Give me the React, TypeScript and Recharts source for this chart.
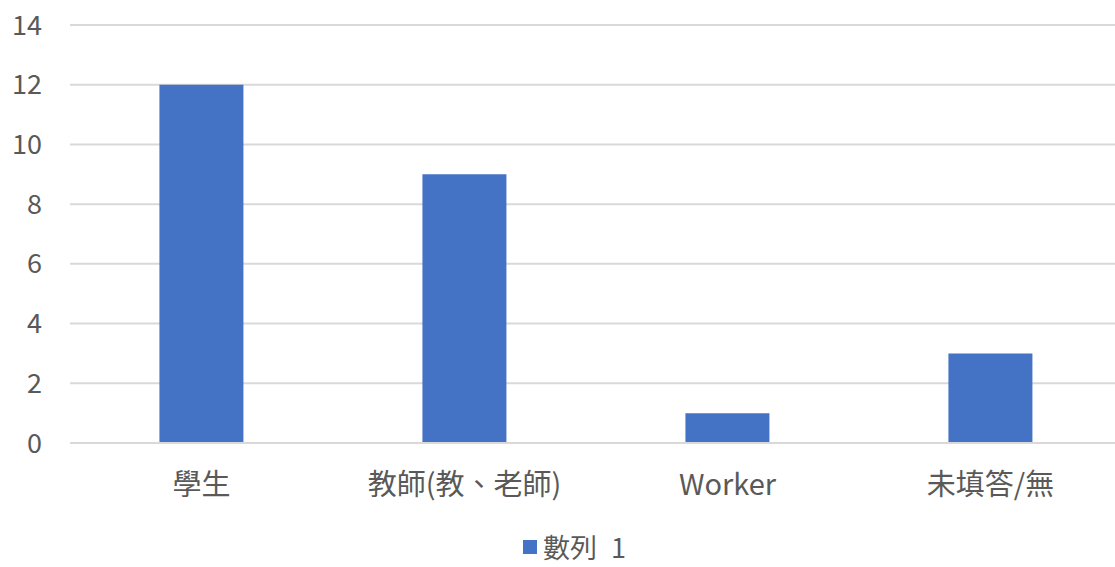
import React from 'react';
import { BarChart, Bar, XAxis, YAxis, CartesianGrid, Legend } from 'recharts';

const categories = ['學生', '教師(教、老師)', 'Worker', '未填答/無'];
const series1 = [12, 9, 1, 3];
const yTicks = [0, 2, 4, 6, 8, 10, 12, 14];
const seriesName = '數列 1';

const data = categories.map((name, i) => ({ name, value: series1[i] }));

const FONT = '"Noto Sans CJK TC", "Noto Sans", sans-serif';
const BLUE = '#4472C4';
const TEXT = '#595959';

const LegendBox = () => (
  <div
    style={{
      height: 44,
      paddingBottom: 2,
      paddingLeft: 27,
      boxSizing: 'border-box',
      display: 'flex',
      alignItems: 'flex-end',
      justifyContent: 'center',
      fontFamily: FONT,
      fontSize: 27,
      lineHeight: '36px',
      color: TEXT,
    }}
  >
    <span style={{ width: 14, height: 14, background: BLUE, marginRight: 6, marginBottom: 11, display: 'inline-block' }} />
    <span style={{ wordSpacing: 8 }}>{seriesName}</span>
  </div>
);

export default function App() {
  return (
    <div style={{ position: 'absolute', left: 0, top: 0, width: 1115, height: 567, overflow: 'hidden', background: '#fff' }}>
      <BarChart
        width={1130}
        height={567}
        data={data}
        margin={{ top: 25, right: 8, bottom: 0, left: 0 }}
        barCategoryGap="34%"
      >
        <CartesianGrid vertical={false} stroke="#d9d9d9" strokeWidth={2} />
        <XAxis
          dataKey="name"
          height={80}
          tickLine={false}
          tickSize={0}
          tickMargin={31}
          axisLine={{ stroke: '#d9d9d9', strokeWidth: 2 }}
          tick={{ fill: TEXT, fontSize: 29, fontFamily: FONT }}
          interval={0}
        />
        <YAxis
          width={70}
          domain={[0, 14]}
          ticks={yTicks}
          axisLine={false}
          tickLine={false}
          tickSize={0}
          tickMargin={28}
          tick={{ fill: TEXT, fontSize: 27, fontFamily: FONT }}
        />
        <Legend verticalAlign="bottom" content={<LegendBox />} />
        <Bar dataKey="value" name={seriesName} fill={BLUE} isAnimationActive={false} />
      </BarChart>
    </div>
  );
}
